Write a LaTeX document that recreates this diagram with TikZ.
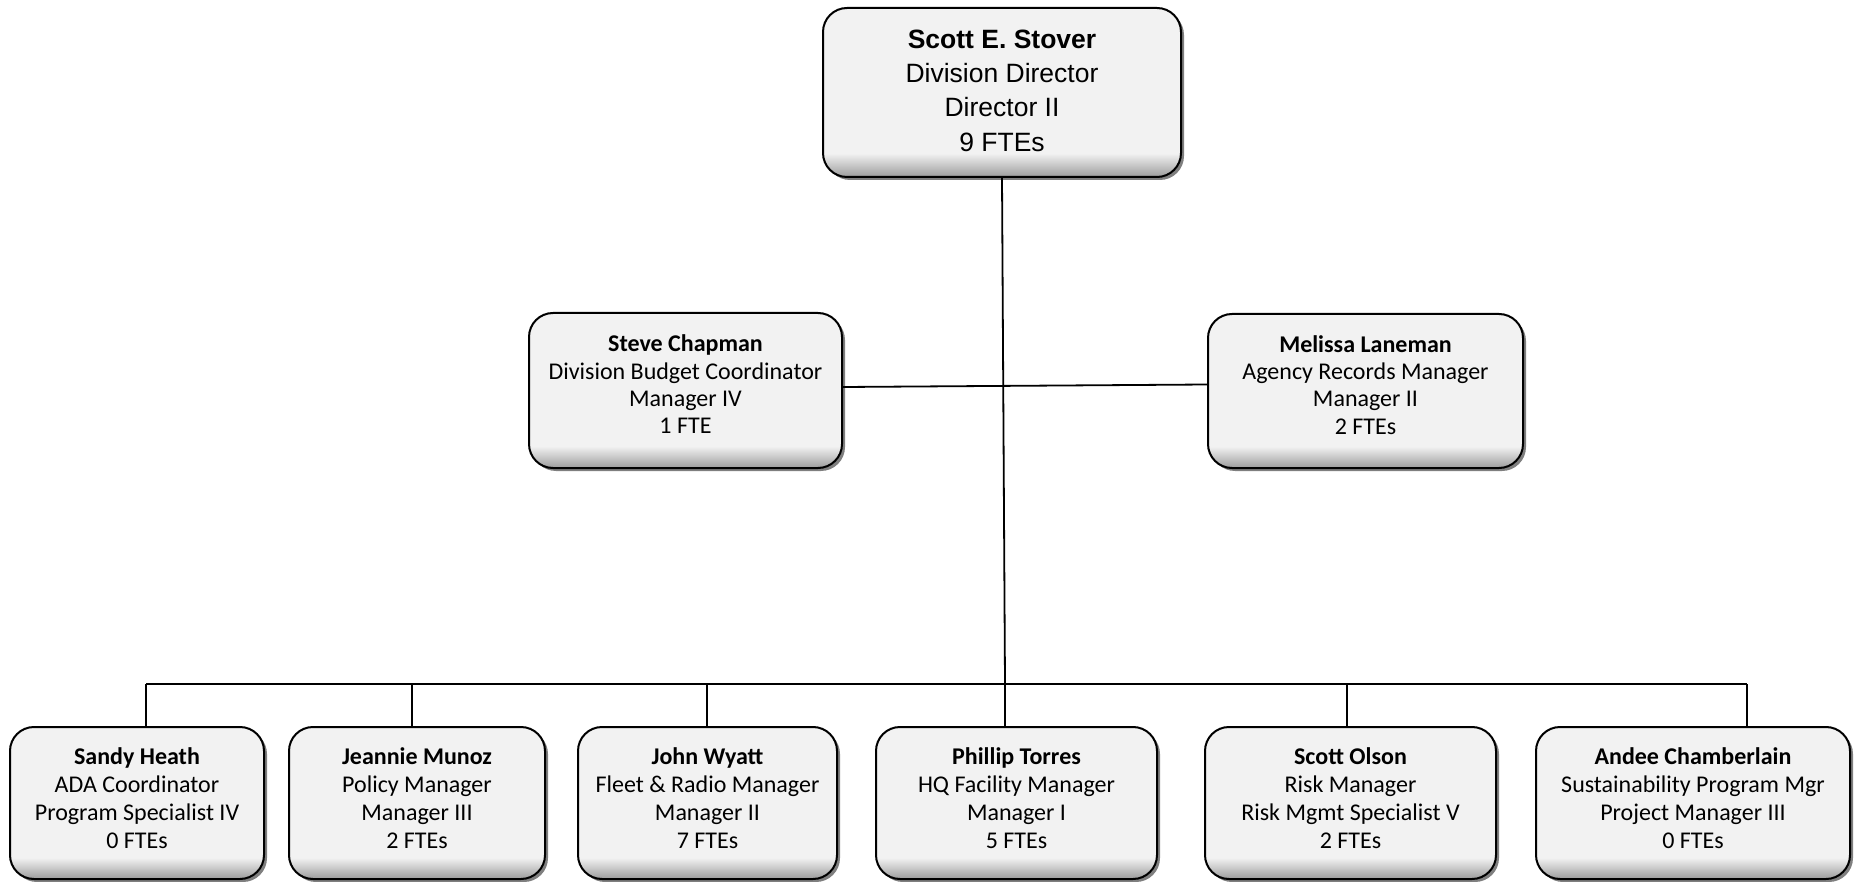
\documentclass[tikz,border=0pt]{standalone}
\usepackage{fontspec}
\setmainfont{Carlito}
\newfontfamily\arialfont{Liberation Sans}
\usetikzlibrary{shadows}
\definecolor{boxfill}{HTML}{F2F2F2}
\definecolor{boxdark}{HTML}{9C9C9C}
\pgfdeclareverticalshading{boxshade}{100bp}{color(0bp)=(boxdark); color(25bp)=(boxdark); color(32bp)=(boxfill); color(100bp)=(boxfill)}
\tikzset{
  orgbox/.style={draw=black, line width=2pt, rounded corners=24pt, shading=boxshade,
    drop shadow={shadow xshift=3pt, shadow yshift=-3pt, fill=black, opacity=0.5}},
  boxtext/.style={align=center, inner sep=0pt, font=\fontsize{24}{28}\selectfont},
  midtext/.style={align=center, inner sep=0pt, font=\fontsize{24}{27.3}\selectfont},
  toptext/.style={align=center, inner sep=0pt, font=\arialfont\fontsize{26.5}{34.4}\selectfont},
  conn/.style={line width=1.8pt, draw=black}
}
\begin{document}
\begin{tikzpicture}[x=1pt,y=-1pt]
\useasboundingbox (0,0) rectangle (1858,882);
% connectors
\coordinate (d1) at (146,684);
\coordinate (d2) at (412,684);
\coordinate (d3) at (707,684);
\coordinate (d4) at (1005,684);
\coordinate (d5) at (1347,684);
\coordinate (d6) at (1747,684);
% top
\node[orgbox, minimum width=358pt, minimum height=169pt] (top) at (1002,92.5) {};
\node[toptext] (toptx) at ([yshift=2pt]top.center) {\textbf{Scott E. Stover}\\Division Director\\Director II\\9 FTEs};
% middle
\node[orgbox, minimum width=313pt, minimum height=155pt] (mL) at (685.5,390.5) {};
\node[orgbox, minimum width=315pt, minimum height=154pt] (mR) at (1365.5,391) {};
% bottom
\node[orgbox, minimum width=254pt, minimum height=152pt] (b1) at (137,803) {};
\node[orgbox, minimum width=256pt, minimum height=152pt] (b2) at (417,803) {};
\node[orgbox, minimum width=259pt, minimum height=152pt] (b3) at (707.5,803) {};
\node[orgbox, minimum width=281pt, minimum height=152pt] (b4) at (1016.5,803) {};
\node[orgbox, minimum width=291pt, minimum height=152pt] (b5) at (1350.5,803) {};
\node[orgbox, minimum width=314pt, minimum height=152pt] (b6) at (1693,803) {};
% lines
\draw[conn] (top.south) -- (d4);
\draw[conn] ([yshift=3.5pt]mL.east) -- ([yshift=6.5pt]mR.west);
\draw[conn] (d1) -- (d6);
\draw[conn] (d1) -- (d1 |- b1.north);
\draw[conn] (d2) -- (d2 |- b2.north);
\draw[conn] (d3) -- (d3 |- b3.north);
\draw[conn] (d4) -- (d4 |- b4.north);
\draw[conn] (d5) -- (d5 |- b5.north);
\draw[conn] (d6) -- (d6 |- b6.north);
% texts
\node[midtext] (mLtx) at ([yshift=6pt]mL.center) {\textbf{Steve Chapman}\\Division Budget Coordinator\\Manager IV\\1 FTE};
\node[midtext] (mRtx) at ([yshift=6pt]mR.center) {\textbf{Melissa Laneman}\\Agency Records Manager\\Manager II\\2 FTEs};
\node[boxtext] (b1tx) at ([yshift=5pt]b1.center) {\textbf{Sandy Heath}\\ADA Coordinator\\Program Specialist IV\\0 FTEs};
\node[boxtext] (b2tx) at ([yshift=5pt]b2.center) {\textbf{Jeannie Munoz}\\Policy Manager\\Manager III\\2 FTEs};
\node[boxtext] (b3tx) at ([yshift=5pt]b3.center) {\textbf{John Wyatt}\\Fleet \& Radio Manager\\Manager II\\7 FTEs};
\node[boxtext] (b4tx) at ([yshift=5pt]b4.center) {\textbf{Phillip Torres}\\HQ Facility Manager\\Manager I\\5 FTEs};
\node[boxtext] (b5tx) at ([yshift=5pt]b5.center) {\textbf{Scott Olson}\\Risk Manager\\Risk Mgmt Specialist V\\2 FTEs};
\node[boxtext] (b6tx) at ([yshift=5pt]b6.center) {\textbf{Andee Chamberlain}\\Sustainability Program Mgr\\Project Manager III\\0 FTEs};
\end{tikzpicture}
\end{document}
